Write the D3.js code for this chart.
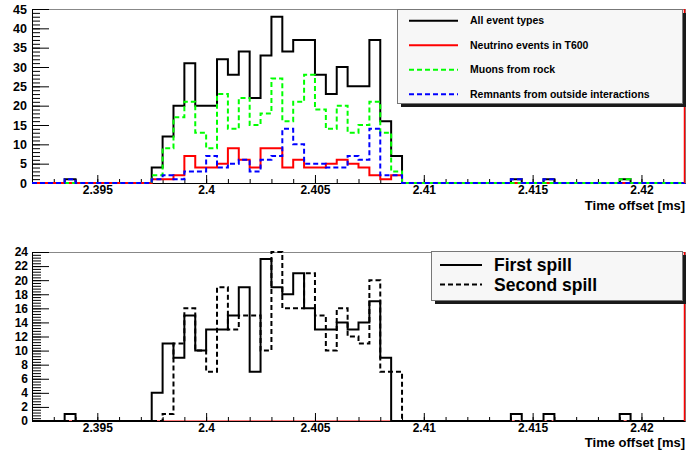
<!DOCTYPE html>
<html>
<head>
<meta charset="utf-8">
<script src="https://cdnjs.cloudflare.com/ajax/libs/d3/7.8.5/d3.min.js"></script>
<style>
  body { margin: 0; background: #fff; }
  svg text { font-family: "Liberation Sans", Arial, Helvetica, sans-serif; font-weight: bold; fill: #000; }
</style>
</head>
<body>
<svg id="chart" width="686" height="452"></svg>
<script>
// histogram binning: 60 bins between 2.392 and 2.422 ms
const binLo = 2.392, binHi = 2.422, nBins = 60;
const xTicks = [2.395, 2.4, 2.405, 2.41, 2.415, 2.42];
const xTickLabels = ["2.395", "2.4", "2.405", "2.41", "2.415", "2.42"];
const xTitle = "Time offset [ms]";

// top panel, counts per bin
const allEvents = [
  0, 0, 0, 1, 0, 0, 0, 0, 0, 0,
  0, 4, 12, 20, 31, 20, 20, 32, 28, 34,
  22, 33, 43, 34, 37, 37, 28, 23, 30, 25,
  25, 37, 16, 7, 0, 0, 0, 0, 0, 0,
  0, 0, 0, 0, 1, 0, 0, 1, 0, 0,
  0, 0, 0, 0, 1, 0, 0, 0, 0, 0];
const neutrinoT600 = [
  0, 0, 0, 0, 0, 0, 0, 0, 0, 0,
  0, 1, 1, 2, 7, 4, 4, 5, 9, 6,
  4, 9, 9, 4, 6, 4, 4, 5, 6, 5,
  4, 2, 1, 2, 0, 0, 0, 0, 0, 0,
  0, 0, 0, 0, 0, 0, 0, 0, 0, 0,
  0, 0, 0, 0, 0, 0, 0, 0, 0, 0];
const muonsRock = [
  0, 0, 0, 0, 0, 0, 0, 0, 0, 0,
  0, 2, 9, 17, 21, 13, 9, 23, 14, 22,
  15, 18, 27, 16, 21, 28, 19, 14, 20, 13,
  15, 21, 13, 3, 0, 0, 0, 0, 0, 0,
  0, 0, 0, 0, 0, 0, 0, 0, 0, 0,
  0, 0, 0, 0, 1, 0, 0, 0, 0, 0];
const remnants = [
  0, 0, 0, 1, 0, 0, 0, 0, 0, 0,
  0, 1, 2, 1, 3, 3, 7, 4, 5, 6,
  3, 6, 7, 14, 10, 5, 5, 4, 4, 7,
  6, 14, 2, 2, 0, 0, 0, 0, 0, 0,
  0, 0, 0, 0, 1, 0, 0, 1, 0, 0,
  0, 0, 0, 0, 0, 0, 0, 0, 0, 0];

// bottom panel, counts per bin
const firstSpill = [
  0, 0, 0, 1, 0, 0, 0, 0, 0, 0,
  0, 4, 11, 9, 15, 10, 13, 13, 15, 19,
  7, 23, 19, 18, 21, 16, 13, 13, 14, 13,
  14, 17, 9, 0, 0, 0, 0, 0, 0, 0,
  0, 0, 0, 0, 1, 0, 0, 1, 0, 0,
  0, 0, 0, 0, 1, 0, 0, 0, 0, 0];
const secondSpill = [
  0, 0, 0, 0, 0, 0, 0, 0, 0, 0,
  0, 0, 1, 11, 16, 10, 7, 19, 13, 15,
  15, 10, 24, 16, 16, 21, 15, 10, 16, 12,
  11, 20, 7, 7, 0, 0, 0, 0, 0, 0,
  0, 0, 0, 0, 0, 0, 0, 0, 0, 0,
  0, 0, 0, 0, 0, 0, 0, 0, 0, 0];

const topSeries = [
  { name: "All event types", values: allEvents, color: "#000", dash: null },
  { name: "Neutrino events in T600", values: neutrinoT600, color: "#ff0000", dash: null },
  { name: "Muons from rock", values: muonsRock, color: "#00ff00", dash: "5,3" },
  { name: "Remnants from outside interactions", values: remnants, color: "#0000ff", dash: "5,3" }
];
const bottomSeries = [
  { name: "First spill", values: firstSpill, color: "#000", dash: null },
  { name: "Second spill", values: secondSpill, color: "#000", dash: "5,3" }
];

const svg = d3.select("#chart");
const left = 32, right = 685;

const x = d3.scaleLinear().domain([binLo, binHi]).range([left, right]);
const binW = (binHi - binLo) / nBins;

const stepLine = (y) => d3.line()
  .x(d => x(d[0]))
  .y(d => y(d[1]))
  .curve(d3.curveStepAfter);

const toPoints = (vals) => {
  const pts = vals.map((v, i) => [binLo + i * binW, v]);
  pts.push([binHi, vals[vals.length - 1]]);
  return pts;
};

const drawPanel = (opt) => {
  const y = d3.scaleLinear().domain([0, opt.ymax]).range([opt.bottom, opt.top]);
  const g = svg.append("g");

  // frame
  g.append("rect")
    .attr("x", left + 0.5).attr("y", opt.top + 0.5)
    .attr("width", right - left).attr("height", opt.bottom - opt.top)
    .attr("fill", "none").attr("stroke", "#888").attr("stroke-width", 1);

  if (opt.redBase) {
    g.append("line")
      .attr("x1", left).attr("x2", right)
      .attr("y1", opt.bottom).attr("y2", opt.bottom)
      .attr("stroke", "#ff5050").attr("stroke-width", 1.5);
  }

  // y axis
  const yMinor = g.append("g")
    .attr("transform", `translate(${left},0)`)
    .call(d3.axisLeft(y).tickValues(d3.range(0, opt.ymax + 1e-9, opt.yMinorStep))
      .tickSize(-opt.minorLen).tickSizeOuter(0).tickFormat(""));
  yMinor.select(".domain").remove();
  const yAxis = g.append("g")
    .attr("transform", `translate(${left},0)`)
    .call(d3.axisLeft(y).tickValues(opt.yTicks).tickSize(-17).tickSizeOuter(0).tickPadding(opt.yPad));
  yAxis.select(".domain").attr("stroke", "#000");
  yAxis.selectAll("text").attr("font-size", opt.yFont);

  // x axis
  const xMinor = g.append("g")
    .attr("transform", `translate(0,${opt.bottom})`)
    .call(d3.axisBottom(x).tickValues(d3.range(2.393, 2.4215, 0.001))
      .tickSize(-4).tickSizeOuter(0).tickFormat(""));
  xMinor.select(".domain").remove();
  const xAxis = g.append("g")
    .attr("transform", `translate(0,${opt.bottom})`)
    .call(d3.axisBottom(x).tickValues(xTicks).tickSize(-8).tickSizeOuter(0).tickPadding(2)
      .tickFormat((d, i) => xTickLabels[i]));
  xAxis.select(".domain").attr("stroke", "#000");
  xAxis.selectAll("text").attr("font-size", 12);

  g.append("text")
    .attr("x", right).attr("y", opt.titleY)
    .attr("text-anchor", "end").attr("font-size", 13)
    .text(xTitle);

  // histograms
  const line = stepLine(y);
  opt.series.forEach(s => {
    g.append("path")
      .datum(toPoints(s.values))
      .attr("d", line)
      .attr("fill", "none")
      .attr("stroke", s.color)
      .attr("stroke-width", 2)
      .attr("stroke-dasharray", s.dash);
  });

  // red edge on the right
  g.append("line")
    .attr("x1", right - 0.5).attr("x2", right - 0.5)
    .attr("y1", opt.top).attr("y2", opt.bottom)
    .attr("stroke", "#ff0000").attr("stroke-width", 1.5);

  // legend
  const L = opt.legend;
  g.append("rect")
    .attr("x", L.x + 4).attr("y", L.y + 4).attr("width", L.w).attr("height", L.h)
    .attr("fill", "#1a1a1a");
  g.append("rect")
    .attr("x", L.x + 0.5).attr("y", L.y + 0.5).attr("width", L.w).attr("height", L.h)
    .attr("fill", "#f7f7f7").attr("stroke", "#777").attr("stroke-width", 1);
  opt.series.forEach((s, i) => {
    const ly = L.row0 + i * L.rowStep;
    g.append("line")
      .attr("x1", L.lineX0).attr("x2", L.lineX1)
      .attr("y1", ly).attr("y2", ly)
      .attr("stroke", s.color).attr("stroke-width", 2)
      .attr("stroke-dasharray", s.dash);
    g.append("text")
      .attr("x", L.textX).attr("y", ly)
      .attr("dy", "0.36em")
      .attr("font-size", L.font)
      .text(s.name);
  });
};

drawPanel({
  top: 9, bottom: 183, ymax: 45,
  yTicks: d3.range(0, 46, 5), yMinorStep: 1, minorLen: 8, yPad: 5, yFont: 12.5,
  titleY: 209.5, redBase: false, series: topSeries,
  legend: { x: 397, y: 9, w: 285, h: 94, row0: 20.7, rowStep: 24.5,
            lineX0: 409, lineX1: 458, textX: 470, font: 10.5 }
});

drawPanel({
  top: 252, bottom: 421, ymax: 24,
  yTicks: d3.range(0, 25, 2), yMinorStep: 0.4, minorLen: 9, yPad: 4, yFont: 12,
  titleY: 446.5, redBase: true, series: bottomSeries,
  legend: { x: 431, y: 251, w: 251, h: 49, row0: 265, rowStep: 19.5,
            lineX0: 440, lineX1: 482, textX: 494, font: 17.5 }
});
</script>
</body>
</html>
